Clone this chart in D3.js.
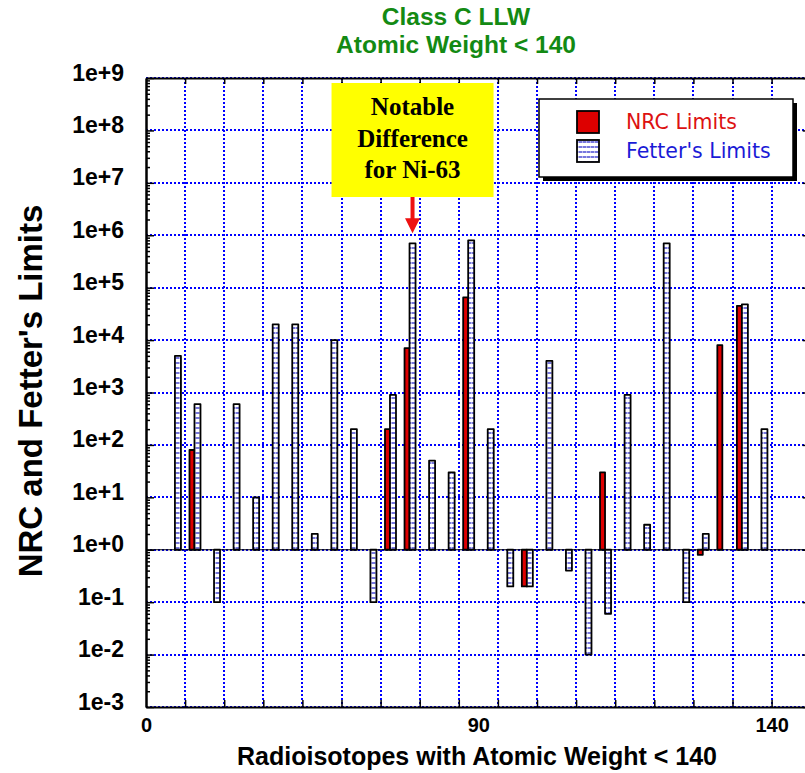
<!DOCTYPE html>
<html>
<head>
<meta charset="utf-8">
<script src="https://cdn.jsdelivr.net/npm/d3@7"></script>
<style>
    body { margin: 0; background: #fff; }
    svg { display: block; font-family: "Liberation Sans", Arial, sans-serif; }
</style>
</head>
<body>
<div id="chart"></div>
<script>
// Radioisotopes (slot order along the x axis), atomic weight < 140
var isotopes = d3.range(1, 32).map(function (i) { return "R" + i; });

// NRC limits (null = no bar)
var nrcLimits = [null, 80, null, null, null, null, null, null, null, null,
    null, 200, 7000, null, null, 65000, null, null, 0.2, null,
    null, null, 30, null, null, null, null, 0.8, 8000, 45000, null];

// Fetter's limits
var fetterLimits = [5000, 600, 0.1, 600, 10, 20000, 20000, 2, 10000, 200,
    0.1, 900, 700000, 50, 30, 800000, 200, 0.2, 0.2, 4000,
    0.4, 0.01, 0.06, 900, 3, 700000, 0.1, 2, null, 48000, 200];

var yTickValues = [1e9, 1e8, 1e7, 1e6, 1e5, 1e4, 1e3, 1e2, 1e1, 1e0, 1e-1, 1e-2, 1e-3];
var yTickLabels = ["1e+9", "1e+8", "1e+7", "1e+6", "1e+5", "1e+4", "1e+3", "1e+2", "1e+1", "1e+0", "1e-1", "1e-2", "1e-3"];
var xTickPos = [0, 8.5, 16];
var xTickLabels = ["0", "90", "140"];
var legendLabels = ["NRC Limits", "Fetter's Limits"];
var noteLines = ["Notable", "Difference", "for Ni-63"];
var noteIsotope = 12;

var width = 805;
var height = 773;

var svg = d3.select("#chart").append("svg")
    .attr("width", width)
    .attr("height", height);

var defs = svg.append("defs");
var pat = defs.append("pattern")
    .attr("id", "fetterFill")
    .attr("patternUnits", "userSpaceOnUse")
    .attr("width", 4)
    .attr("height", 5);
pat.append("rect").attr("width", 4).attr("height", 5).attr("fill", "#fff");
pat.append("rect").attr("y", 2).attr("width", 4).attr("height", 2).attr("fill", "#7777dd");
pat.append("rect").attr("x", 3).attr("y", 2).attr("width", 1).attr("height", 2).attr("fill", "#b8b8ee");

// scales: x in grid units, y log
var x = d3.scaleLinear().domain([0, 17]).range([146, 810.7]);
var y = d3.scaleLog().domain([1e-3, 1e9]).range([707, 78]);

function slotPos(i) { return 0.74 + 0.5 * i; }

// grid
var grid = svg.append("g")
    .attr("stroke", "#0000ff")
    .attr("stroke-width", 2)
    .attr("stroke-dasharray", "2,2");

grid.selectAll(".vg").data(d3.range(1, 17)).enter().append("line")
    .attr("x1", function (d) { return Math.round(x(d)); })
    .attr("x2", function (d) { return Math.round(x(d)); })
    .attr("y1", y(1e9))
    .attr("y2", y(1e-3));

grid.selectAll(".hg").data(yTickValues).enter().append("line")
    .attr("x1", x(0))
    .attr("x2", x(17))
    .attr("y1", function (d) { return Math.round(y(d)); })
    .attr("y2", function (d) { return Math.round(y(d)); });

// baseline at 1
svg.append("line")
    .attr("x1", x(0)).attr("x2", x(17))
    .attr("y1", y(1)).attr("y2", y(1))
    .attr("stroke", "#000").attr("stroke-width", 1.2);

// bars
var bars = svg.append("g")
    .attr("stroke", "#000")
    .attr("stroke-width", 1.8)
    .attr("stroke-linejoin", "round");

function barY(v) { return Math.min(y(v), y(1)); }
function barH(v) { return Math.abs(y(v) - y(1)); }

bars.selectAll(".nrc")
    .data(isotopes.map(function (name, i) { return { i: i, v: nrcLimits[i] }; })
        .filter(function (d) { return d.v != null; }))
    .enter().append("rect")
    .attr("x", function (d) { return x(slotPos(d.i)) - 5; })
    .attr("width", 5)
    .attr("y", function (d) { return barY(d.v); })
    .attr("height", function (d) { return barH(d.v); })
    .attr("fill", "#dd0000");

bars.selectAll(".fet")
    .data(isotopes.map(function (name, i) { return { i: i, v: fetterLimits[i] }; })
        .filter(function (d) { return d.v != null; }))
    .enter().append("rect")
    .attr("x", function (d) { return x(slotPos(d.i)); })
    .attr("width", 6)
    .attr("y", function (d) { return barY(d.v); })
    .attr("height", function (d) { return barH(d.v); })
    .attr("fill", "url(#fetterFill)");

// axes
var minorTicks = [];
yTickValues.slice(1).forEach(function (d) {
    for (var k = 2; k <= 9; k++) minorTicks.push(d * k);
});

function styleAxis(g) {
    g.select(".domain").attr("stroke-width", 2);
    g.selectAll(".tick line").attr("stroke-width", 1.5);
}

svg.append("g")
    .attr("transform", "translate(" + x(0) + ",0)")
    .call(d3.axisLeft(y).tickValues(minorTicks).tickSize(-4).tickSizeOuter(0).tickFormat(""))
    .call(styleAxis);

var yAxis = svg.append("g")
    .attr("transform", "translate(" + x(0) + ",0)")
    .call(d3.axisLeft(y).tickValues(yTickValues).tickSize(-8).tickSizeOuter(0).tickPadding(22)
        .tickFormat(function (d, i) { return yTickLabels[i]; }))
    .call(styleAxis);
yAxis.selectAll("text")
    .attr("dy", 2)
    .attr("font-size", 23)
    .attr("font-weight", "bold")
    .attr("fill", "#000");

svg.append("g")
    .attr("transform", "translate(" + x(17) + ",0)")
    .call(d3.axisRight(y).tickValues(yTickValues).tickSize(-8).tickSizeOuter(0).tickFormat(""))
    .call(styleAxis);

svg.append("g")
    .attr("transform", "translate(0," + y(1e9) + ")")
    .call(d3.axisTop(x).tickValues(d3.range(1, 17)).tickSize(-6).tickSizeOuter(0).tickFormat(""))
    .call(styleAxis);

svg.append("g")
    .attr("transform", "translate(0," + y(1e-3) + ")")
    .call(d3.axisBottom(x).tickValues(d3.range(1, 17)).tickSize(-7).tickSizeOuter(0).tickFormat(""))
    .call(styleAxis);

var xLab = svg.append("g")
    .attr("transform", "translate(0," + y(1e-3) + ")")
    .call(d3.axisBottom(x).tickValues(xTickPos).tickSize(0).tickPadding(11)
        .tickFormat(function (d, i) { return xTickLabels[i]; }));
xLab.select(".domain").remove();
xLab.selectAll("text")
    .attr("font-size", 20)
    .attr("font-weight", "bold")
    .attr("fill", "#000");

// titles
var title = svg.append("g")
    .attr("fill", "#138a13")
    .attr("font-weight", "bold")
    .attr("font-size", 24.5)
    .attr("text-anchor", "middle");
title.append("text").attr("x", 456).attr("y", 25).text("Class C LLW");
title.append("text").attr("x", 456).attr("y", 53).text("Atomic Weight < 140");

svg.append("text")
    .attr("x", 477)
    .attr("y", 765)
    .attr("text-anchor", "middle")
    .attr("font-size", 25)
    .attr("font-weight", "bold")
    .text("Radioisotopes with Atomic Weight < 140");

svg.append("text")
    .attr("transform", "translate(42,391) rotate(-90)")
    .attr("text-anchor", "middle")
    .attr("font-size", 33)
    .attr("font-weight", "bold")
    .text("NRC and Fetter's Limits");

// legend
var legend = svg.append("g").attr("transform", "translate(539,99)");
legend.append("rect")
    .attr("x", 4).attr("y", 4).attr("width", 254).attr("height", 78)
    .attr("fill", "#000");
legend.append("rect")
    .attr("width", 254).attr("height", 78)
    .attr("fill", "#fff").attr("stroke", "#000").attr("stroke-width", 1.5);
legend.append("rect")
    .attr("x", 38).attr("y", 12).attr("width", 22).attr("height", 22)
    .attr("fill", "#dd0000").attr("stroke", "#000").attr("stroke-width", 1.8);
legend.append("rect")
    .attr("x", 38).attr("y", 41).attr("width", 22).attr("height", 22)
    .attr("fill", "url(#fetterFill)").attr("stroke", "#000").attr("stroke-width", 1.8);
legend.append("text")
    .attr("x", 87).attr("y", 29.5)
    .attr("font-family", "DejaVu Sans, Verdana, sans-serif")
    .attr("font-size", 20.5)
    .attr("fill", "#dd1111")
    .text(legendLabels[0]);
legend.append("text")
    .attr("x", 87).attr("y", 58.5)
    .attr("font-family", "DejaVu Sans, Verdana, sans-serif")
    .attr("font-size", 20.5)
    .attr("fill", "#1a1ad6")
    .text(legendLabels[1]);

// annotation for Ni-63
var ax = x(slotPos(noteIsotope)) + 3;
var tipY = y(fetterLimits[noteIsotope]) - 10;
var note = svg.append("g");
note.append("rect")
    .attr("x", ax - 81).attr("y", 83).attr("width", 162).attr("height", 114)
    .attr("fill", "#ffff00");
note.selectAll(".nl").data(noteLines).enter().append("text")
    .attr("x", ax)
    .attr("y", function (d, i) { return 115 + i * 31.6; })
    .attr("text-anchor", "middle")
    .attr("font-family", "Liberation Serif, Times New Roman, serif")
    .attr("font-weight", "bold")
    .attr("font-size", 25)
    .text(function (d) { return d; });
note.append("path")
    .attr("d", "M" + (ax - 2) + ",197 L" + (ax + 2) + ",197 L" + (ax + 2) + "," + (tipY - 15) +
        " L" + (ax + 7.5) + "," + (tipY - 15) + " L" + ax + "," + tipY +
        " L" + (ax - 7.5) + "," + (tipY - 15) + " L" + (ax - 2) + "," + (tipY - 15) + "Z")
    .attr("fill", "#ee1111");
</script>
</body>
</html>
